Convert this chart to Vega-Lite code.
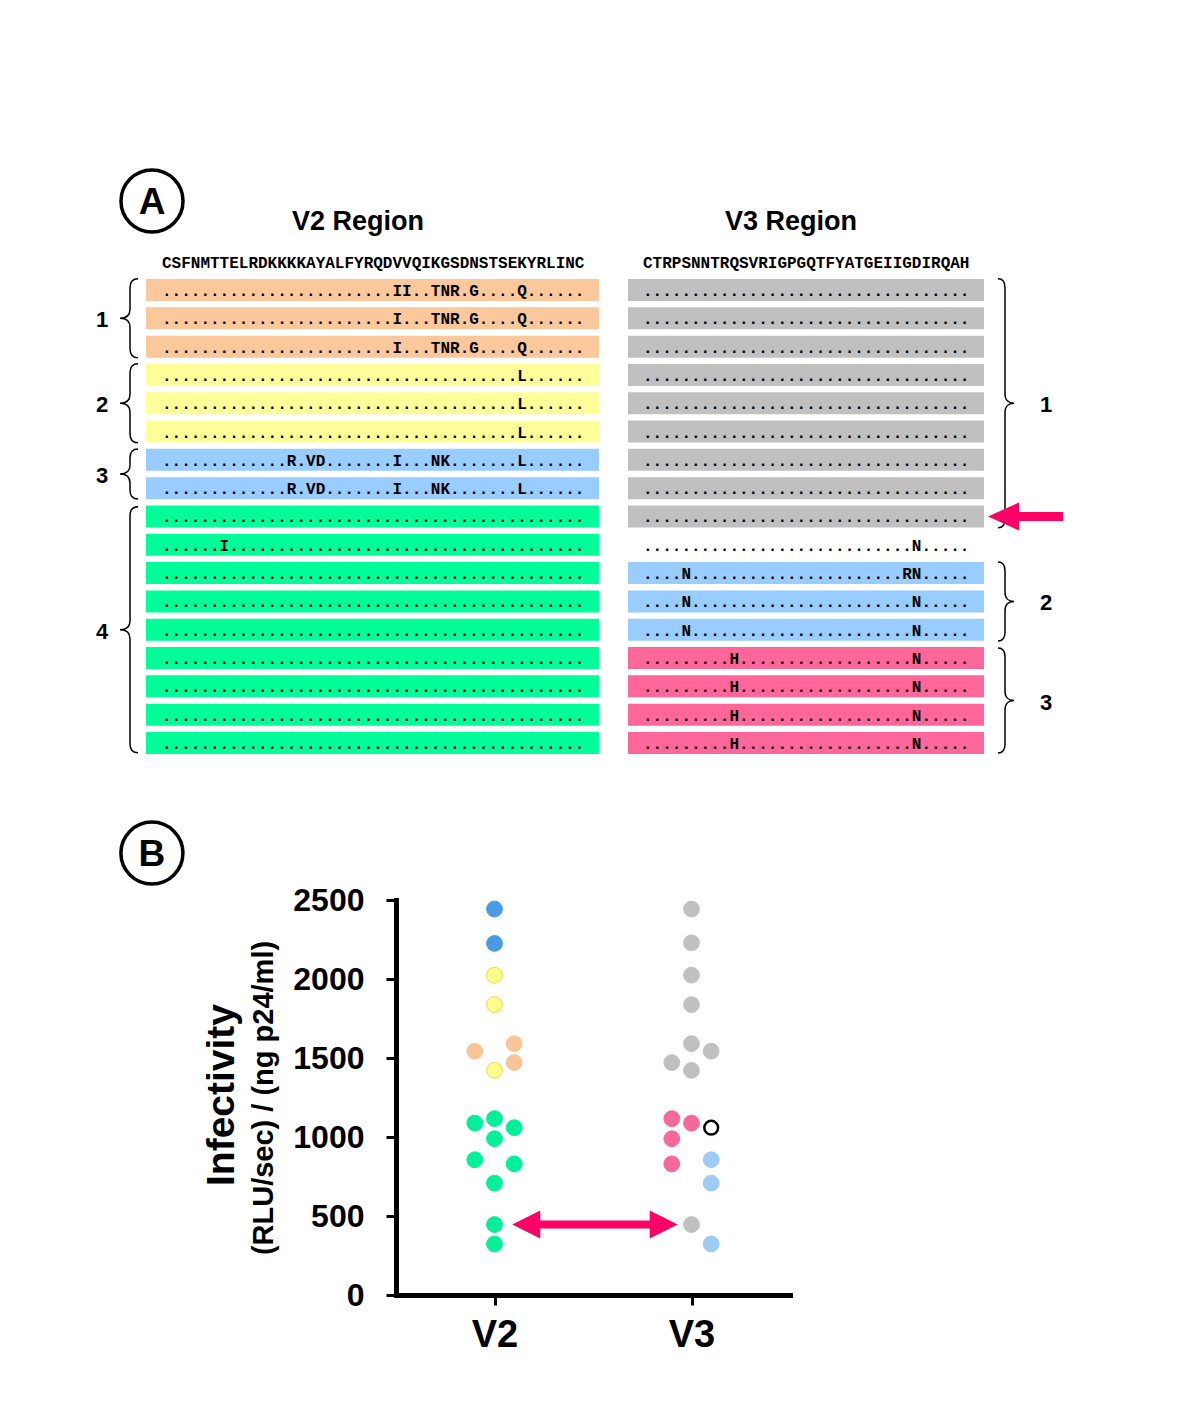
{
  "$schema": "https://vega.github.io/schema/vega-lite/v6.json",
  "width": 394,
  "height": 395,
  "autosize": {"type": "none"},
  "padding": {"left": 396, "top": 900, "right": 410, "bottom": 125},
  "background": "white",
  "config": {
    "view": {"stroke": null},
    "axis": {"grid": false, "domainColor": "black", "tickColor": "black", "labelColor": "black", "titleColor": "black", "labelFont": "Liberation Sans", "titleFont": "Liberation Sans", "labelFontWeight": "bold", "titleFontWeight": "bold"}
  },
  "datasets": {
    "pts": [
      {"r": "V2", "x": 1.0, "v": 2443, "c": "blue"},
      {"r": "V2", "x": 1.0, "v": 2225, "c": "blue"},
      {"r": "V2", "x": 1.0, "v": 2024, "c": "yellow"},
      {"r": "V2", "x": 1.0, "v": 1838, "c": "yellow"},
      {"r": "V2", "x": 1.0, "v": 1422, "c": "yellow"},
      {"r": "V2", "x": 0.9, "v": 1543, "c": "orange"},
      {"r": "V2", "x": 1.1, "v": 1591, "c": "orange"},
      {"r": "V2", "x": 1.1, "v": 1471, "c": "orange"},
      {"r": "V2", "x": 0.9, "v": 1088, "c": "green"},
      {"r": "V2", "x": 1.0, "v": 1116, "c": "green"},
      {"r": "V2", "x": 1.1, "v": 1059, "c": "green"},
      {"r": "V2", "x": 1.0, "v": 989, "c": "green"},
      {"r": "V2", "x": 0.9, "v": 856, "c": "green"},
      {"r": "V2", "x": 1.1, "v": 830, "c": "green"},
      {"r": "V2", "x": 1.0, "v": 708, "c": "green"},
      {"r": "V2", "x": 1.0, "v": 446, "c": "green"},
      {"r": "V2", "x": 1.0, "v": 323, "c": "green"},
      {"r": "V3", "x": 2.0, "v": 2443, "c": "gray"},
      {"r": "V3", "x": 2.0, "v": 2229, "c": "gray"},
      {"r": "V3", "x": 2.0, "v": 2024, "c": "gray"},
      {"r": "V3", "x": 2.0, "v": 1838, "c": "gray"},
      {"r": "V3", "x": 2.0, "v": 1591, "c": "gray"},
      {"r": "V3", "x": 2.1, "v": 1543, "c": "gray"},
      {"r": "V3", "x": 1.9, "v": 1471, "c": "gray"},
      {"r": "V3", "x": 2.0, "v": 1422, "c": "gray"},
      {"r": "V3", "x": 2.0, "v": 446, "c": "gray"},
      {"r": "V3", "x": 1.9, "v": 1116, "c": "pink"},
      {"r": "V3", "x": 2.0, "v": 1088, "c": "pink"},
      {"r": "V3", "x": 1.9, "v": 989, "c": "pink"},
      {"r": "V3", "x": 1.9, "v": 830, "c": "pink"},
      {"r": "V3", "x": 2.1, "v": 1059, "c": "open"},
      {"r": "V3", "x": 2.1, "v": 856, "c": "lblue"},
      {"r": "V3", "x": 2.1, "v": 708, "c": "lblue"},
      {"r": "V3", "x": 2.1, "v": 323, "c": "lblue"}
    ],
    "v2": [
      {"row": 1, "g": "o", "seq": "........................II..TNR.G....Q......"},
      {"row": 2, "g": "o", "seq": "........................I...TNR.G....Q......"},
      {"row": 3, "g": "o", "seq": "........................I...TNR.G....Q......"},
      {"row": 4, "g": "y", "seq": ".....................................L......"},
      {"row": 5, "g": "y", "seq": ".....................................L......"},
      {"row": 6, "g": "y", "seq": ".....................................L......"},
      {"row": 7, "g": "b", "seq": ".............R.VD.......I...NK.......L......"},
      {"row": 8, "g": "b", "seq": ".............R.VD.......I...NK.......L......"},
      {"row": 9, "g": "g", "seq": "............................................"},
      {"row": 10, "g": "g", "seq": "......I....................................."},
      {"row": 11, "g": "g", "seq": "............................................"},
      {"row": 12, "g": "g", "seq": "............................................"},
      {"row": 13, "g": "g", "seq": "............................................"},
      {"row": 14, "g": "g", "seq": "............................................"},
      {"row": 15, "g": "g", "seq": "............................................"},
      {"row": 16, "g": "g", "seq": "............................................"},
      {"row": 17, "g": "g", "seq": "............................................"}
    ],
    "v3": [
      {"row": 1, "g": "gr", "seq": ".................................."},
      {"row": 2, "g": "gr", "seq": ".................................."},
      {"row": 3, "g": "gr", "seq": ".................................."},
      {"row": 4, "g": "gr", "seq": ".................................."},
      {"row": 5, "g": "gr", "seq": ".................................."},
      {"row": 6, "g": "gr", "seq": ".................................."},
      {"row": 7, "g": "gr", "seq": ".................................."},
      {"row": 8, "g": "gr", "seq": ".................................."},
      {"row": 9, "g": "gr", "seq": ".................................."},
      {"row": 10, "g": "none", "seq": "............................N....."},
      {"row": 11, "g": "b", "seq": "....N......................RN....."},
      {"row": 12, "g": "b", "seq": "....N.......................N....."},
      {"row": 13, "g": "b", "seq": "....N.......................N....."},
      {"row": 14, "g": "p", "seq": ".........H..................N....."},
      {"row": 15, "g": "p", "seq": ".........H..................N....."},
      {"row": 16, "g": "p", "seq": ".........H..................N....."},
      {"row": 17, "g": "p", "seq": ".........H..................N....."}
    ],
    "v2ref": [{"row": 0, "seq": "CSFNMTTELRDKKKKAYALFYRQDVVQIKGSDNSTSEKYRLINC"}],
    "v3ref": [{"row": 0, "seq": "CTRPSNNTRQSVRIGPGQTFYATGEIIGDIRQAH"}],
    "lbr": [
      {"b": "L1", "mid": 2, "lab": "1"},
      {"b": "L2", "mid": 5, "lab": "2"},
      {"b": "L3", "mid": 7.5, "lab": "3"},
      {"b": "L4", "mid": 13, "lab": "4"}
    ],
    "rbr": [
      {"b": "R1", "mid": 5, "lab": "1"},
      {"b": "R2", "mid": 12, "lab": "2"},
      {"b": "R3", "mid": 15.5, "lab": "3"}
    ]
  },
  "layer": [
    {
      "layer": [
        {
          "data": {"name": "pts"},
          "transform": [{"filter": "datum.c != 'open'"}],
          "mark": {"type": "point", "shape": "circle", "filled": true, "size": 250, "opacity": 1, "strokeWidth": 1},
          "encoding": {
            "x": {"field": "x", "type": "quantitative", "scale": {"domain": [0.5, 2.5], "nice": false, "zero": false},
              "axis": {"values": [1, 2], "labelExpr": "datum.value == 1 ? 'V2' : 'V3'", "labelFontSize": 38, "labelPadding": 11, "labelDx": -7, "tickSize": 10, "tickWidth": 3, "domainWidth": 5, "domainCap": "square", "title": null, "labelFlush": false, "labelOverlap": false}},
            "y": {"field": "v", "type": "quantitative", "scale": {"domain": [0, 2500], "nice": false, "zero": false},
              "axis": {"values": [0, 500, 1000, 1500, 2000, 2500], "format": "d", "labelFontSize": 32, "labelPadding": 22, "tickSize": 10, "tickWidth": 3, "domainWidth": 5, "domainCap": "square", "title": "(RLU/sec) / (ng p24/ml)", "titleFontSize": 29, "titlePadding": 14, "labelFlush": false, "labelOverlap": false}},
            "fill": {"field": "c", "type": "nominal", "scale": {"domain": ["blue", "yellow", "orange", "green", "gray", "pink", "lblue"], "range": ["#4a9be6", "#ffff8c", "#f9c596", "#00f09a", "#c0c0c0", "#f7689a", "#9dcbf6"]}, "legend": null},
            "stroke": {"field": "c", "type": "nominal", "scale": {"domain": ["blue", "yellow", "orange", "green", "gray", "pink", "lblue"], "range": ["#4a9be6", "#e3d94a", "#f9c596", "#00f09a", "#c0c0c0", "#f7689a", "#9dcbf6"]}, "legend": null}
          }
        },
        {
          "data": {"name": "pts"},
          "transform": [{"filter": "datum.c == 'open'"}],
          "mark": {"type": "point", "shape": "circle", "filled": true, "fill": "white", "stroke": "black", "strokeWidth": 2.5, "size": 190, "opacity": 1},
          "encoding": {
            "x": {"field": "x", "type": "quantitative", "scale": {"domain": [0.5, 2.5], "nice": false, "zero": false}},
            "y": {"field": "v", "type": "quantitative", "scale": {"domain": [0, 2500], "nice": false, "zero": false}}
          }
        },
        {
          "data": {"values": [{"v": 446, "a": 1.14, "b": 1.88}]},
          "mark": {"type": "rule", "color": "#ff0066", "strokeWidth": 8},
          "encoding": {
            "x": {"field": "a", "type": "quantitative", "scale": {"domain": [0.5, 2.5], "nice": false, "zero": false}},
            "x2": {"field": "b"},
            "y": {"field": "v", "type": "quantitative", "scale": {"domain": [0, 2500], "nice": false, "zero": false}}
          }
        },
        {
          "data": {"values": [{"v": 446, "x": 1.09, "d": "L"}, {"v": 446, "x": 1.93, "d": "R"}]},
          "mark": {"type": "point", "size": 4, "filled": true, "opacity": 1, "color": "#ff0066", "strokeWidth": 0},
          "encoding": {
            "x": {"field": "x", "type": "quantitative", "scale": {"domain": [0.5, 2.5], "nice": false, "zero": false}},
            "y": {"field": "v", "type": "quantitative", "scale": {"domain": [0, 2500], "nice": false, "zero": false}},
            "shape": {"field": "d", "type": "nominal", "scale": {"domain": ["L", "R"], "range": ["M0,0L28,-14L28,14Z", "M0,0L-28,-14L-28,14Z"]}, "legend": null}
          }
        },
        {
          "data": {"values": [{"t": "Infectivity"}]},
          "mark": {"type": "text", "angle": 270, "font": "Liberation Sans", "fontWeight": "bold", "fontSize": 39, "align": "center", "baseline": "middle", "color": "black"},
          "encoding": {
            "x": {"datum": -0.383, "type": "quantitative", "scale": {"domain": [0.5, 2.5], "nice": false, "zero": false}},
            "y": {"datum": 1266, "type": "quantitative", "scale": {"domain": [0, 2500], "nice": false, "zero": false}},
            "text": {"field": "t"}
          }
        },
        {
          "data": {"values": [{"t": "B"}]},
          "mark": {"type": "point", "shape": "circle", "size": 3848, "filled": false, "color": "black", "strokeWidth": 3.5, "opacity": 1},
          "encoding": {
            "x": {"datum": -0.739, "type": "quantitative", "scale": {"domain": [0.5, 2.5], "nice": false, "zero": false}},
            "y": {"datum": 2797, "type": "quantitative", "scale": {"domain": [0, 2500], "nice": false, "zero": false}}
          }
        },
        {
          "data": {"values": [{"t": "B"}]},
          "mark": {"type": "text", "font": "Liberation Sans", "fontWeight": "bold", "fontSize": 37, "align": "center", "baseline": "middle", "dy": 2, "color": "black"},
          "encoding": {
            "x": {"datum": -0.739, "type": "quantitative", "scale": {"domain": [0.5, 2.5], "nice": false, "zero": false}},
            "y": {"datum": 2797, "type": "quantitative", "scale": {"domain": [0, 2500], "nice": false, "zero": false}},
            "text": {"field": "t"}
          }
        }
      ]
    },
    {
      "layer": [
        {
          "data": {"name": "v2"},
          "mark": {"type": "rule", "strokeWidth": 22, "strokeCap": "butt", "opacity": 1},
          "encoding": {
            "x": {"datum": -1.167, "type": "quantitative", "scale": {"domain": [24.875, 65.917], "nice": false, "zero": false}, "axis": null},
            "x2": {"datum": 46.02},
            "y": {"field": "row", "type": "quantitative", "scale": {"domain": [22.547, 36.5], "reverse": true, "nice": false, "zero": false}, "axis": null},
            "color": {"field": "g", "type": "nominal", "scale": {"domain": ["o", "y", "b", "g", "gr", "p"], "range": ["#fbc89b", "#ffff99", "#99ccff", "#00ff99", "#c0c0c0", "#ff6699"]}, "legend": null}
          }
        },
        {
          "data": {"name": "v2"},
          "mark": {"type": "text", "font": "Liberation Mono", "fontWeight": "bold", "fontSize": 16, "align": "left", "baseline": "middle", "dy": 1, "color": "black"},
          "encoding": {
            "x": {"datum": 0.5, "type": "quantitative", "scale": {"domain": [24.875, 65.917], "nice": false, "zero": false}, "axis": null},
            "y": {"field": "row", "type": "quantitative", "scale": {"domain": [22.547, 36.5], "reverse": true, "nice": false, "zero": false}, "axis": null},
            "text": {"field": "seq"}
          }
        },
        {
          "data": {"name": "v2ref"},
          "mark": {"type": "text", "font": "Liberation Mono", "fontWeight": "bold", "fontSize": 16, "align": "left", "baseline": "middle", "dy": 1, "color": "black"},
          "encoding": {
            "x": {"datum": 0.5, "type": "quantitative", "scale": {"domain": [24.875, 65.917], "nice": false, "zero": false}, "axis": null},
            "y": {"field": "row", "type": "quantitative", "scale": {"domain": [22.547, 36.5], "reverse": true, "nice": false, "zero": false}, "axis": null},
            "text": {"field": "seq"}
          }
        },
        {
          "data": {"name": "lbr"},
          "mark": {"type": "point", "size": 4, "filled": false, "color": "black", "strokeWidth": 1.5, "opacity": 1},
          "encoding": {
            "x": {"datum": -2.833, "type": "quantitative", "scale": {"domain": [24.875, 65.917], "nice": false, "zero": false}, "axis": null},
            "y": {"field": "mid", "type": "quantitative", "scale": {"domain": [22.547, 36.5], "reverse": true, "nice": false, "zero": false}, "axis": null},
            "shape": {"field": "b", "type": "nominal", "scale": {"domain": ["L1", "L2", "L3", "L4"], "range": [
              "M8,-39.5C3,-39.5 0,-36.5 0,-30.5L0,-9C0,-3 -4,0 -10,0C-4,0 0,3 0,9L0,30.5C0,36.5 3,39.5 8,39.5",
              "M8,-39.5C3,-39.5 0,-36.5 0,-30.5L0,-9C0,-3 -4,0 -10,0C-4,0 0,3 0,9L0,30.5C0,36.5 3,39.5 8,39.5",
              "M8,-25C3,-25 0,-22 0,-16L0,-9C0,-3 -4,0 -10,0C-4,0 0,3 0,9L0,16C0,22 3,25 8,25",
              "M8,-123C3,-123 0,-120 0,-114L0,-9C0,-3 -4,0 -10,0C-4,0 0,3 0,9L0,114C0,120 3,123 8,123"
            ]}, "legend": null}
          }
        },
        {
          "data": {"name": "lbr"},
          "mark": {"type": "text", "font": "Liberation Sans", "fontWeight": "bold", "fontSize": 22, "align": "center", "baseline": "middle", "dy": 2, "color": "black"},
          "encoding": {
            "x": {"datum": -5.75, "type": "quantitative", "scale": {"domain": [24.875, 65.917], "nice": false, "zero": false}, "axis": null},
            "y": {"field": "mid", "type": "quantitative", "scale": {"domain": [22.547, 36.5], "reverse": true, "nice": false, "zero": false}, "axis": null},
            "text": {"field": "lab"}
          }
        },
        {
          "data": {"values": [{"t": "V2 Region"}]},
          "mark": {"type": "text", "font": "Liberation Sans", "fontWeight": "bold", "fontSize": 27, "align": "center", "baseline": "middle", "color": "black"},
          "encoding": {
            "x": {"datum": 20.92, "type": "quantitative", "scale": {"domain": [24.875, 65.917], "nice": false, "zero": false}, "axis": null},
            "y": {"datum": -1.402, "type": "quantitative", "scale": {"domain": [22.547, 36.5], "reverse": true, "nice": false, "zero": false}, "axis": null},
            "text": {"field": "t"}
          }
        },
        {
          "data": {"values": [{"t": "A"}]},
          "mark": {"type": "point", "shape": "circle", "size": 3848, "filled": false, "color": "black", "strokeWidth": 3.5, "opacity": 1},
          "encoding": {
            "x": {"datum": -0.542, "type": "quantitative", "scale": {"domain": [24.875, 65.917], "nice": false, "zero": false}, "axis": null},
            "y": {"datum": -2.144, "type": "quantitative", "scale": {"domain": [22.547, 36.5], "reverse": true, "nice": false, "zero": false}, "axis": null}
          }
        },
        {
          "data": {"values": [{"t": "A"}]},
          "mark": {"type": "text", "font": "Liberation Sans", "fontWeight": "bold", "fontSize": 37, "align": "center", "baseline": "middle", "dy": 2, "color": "black"},
          "encoding": {
            "x": {"datum": -0.542, "type": "quantitative", "scale": {"domain": [24.875, 65.917], "nice": false, "zero": false}, "axis": null},
            "y": {"datum": -2.144, "type": "quantitative", "scale": {"domain": [22.547, 36.5], "reverse": true, "nice": false, "zero": false}, "axis": null},
            "text": {"field": "t"}
          }
        }
      ]
    },
    {
      "layer": [
        {
          "data": {"name": "v3"},
          "transform": [{"filter": "datum.g != 'none'"}],
          "mark": {"type": "rule", "strokeWidth": 22, "strokeCap": "butt", "opacity": 1},
          "encoding": {
            "x": {"datum": -1.0625, "type": "quantitative", "scale": {"domain": [-25.229, 15.813], "nice": false, "zero": false}, "axis": null},
            "x2": {"datum": 36.02},
            "y": {"field": "row", "type": "quantitative", "scale": {"domain": [22.547, 36.5], "reverse": true, "nice": false, "zero": false}, "axis": null},
            "color": {"field": "g", "type": "nominal", "scale": {"domain": ["o", "y", "b", "g", "gr", "p"], "range": ["#fbc89b", "#ffff99", "#99ccff", "#00ff99", "#c0c0c0", "#ff6699"]}, "legend": null}
          }
        },
        {
          "data": {"name": "v3"},
          "mark": {"type": "text", "font": "Liberation Mono", "fontWeight": "bold", "fontSize": 16, "align": "left", "baseline": "middle", "dy": 1, "color": "black"},
          "encoding": {
            "x": {"datum": 0.5, "type": "quantitative", "scale": {"domain": [-25.229, 15.813], "nice": false, "zero": false}, "axis": null},
            "y": {"field": "row", "type": "quantitative", "scale": {"domain": [22.547, 36.5], "reverse": true, "nice": false, "zero": false}, "axis": null},
            "text": {"field": "seq"}
          }
        },
        {
          "data": {"name": "v3ref"},
          "mark": {"type": "text", "font": "Liberation Mono", "fontWeight": "bold", "fontSize": 16, "align": "left", "baseline": "middle", "dy": 1, "color": "black"},
          "encoding": {
            "x": {"datum": 0.5, "type": "quantitative", "scale": {"domain": [-25.229, 15.813], "nice": false, "zero": false}, "axis": null},
            "y": {"field": "row", "type": "quantitative", "scale": {"domain": [22.547, 36.5], "reverse": true, "nice": false, "zero": false}, "axis": null},
            "text": {"field": "seq"}
          }
        },
        {
          "data": {"name": "rbr"},
          "mark": {"type": "point", "size": 4, "filled": false, "color": "black", "strokeWidth": 1.5, "opacity": 1},
          "encoding": {
            "x": {"datum": 38.21, "type": "quantitative", "scale": {"domain": [-25.229, 15.813], "nice": false, "zero": false}, "axis": null},
            "y": {"field": "mid", "type": "quantitative", "scale": {"domain": [22.547, 36.5], "reverse": true, "nice": false, "zero": false}, "axis": null},
            "shape": {"field": "b", "type": "nominal", "scale": {"domain": ["R1", "R2", "R3"], "range": [
              "M-7,-124.5C-2,-124.5 0,-121.5 0,-115.5L0,-9C0,-3 4,0 9,0C4,0 0,3 0,9L0,115.5C0,121.5 -2,124.5 -7,124.5",
              "M-7,-39.5C-2,-39.5 0,-36.5 0,-30.5L0,-9C0,-3 4,0 9,0C4,0 0,3 0,9L0,30.5C0,36.5 -2,39.5 -7,39.5",
              "M-7,-52.5C-2,-52.5 0,-49.5 0,-43.5L0,-9C0,-3 4,0 9,0C4,0 0,3 0,9L0,43.5C0,49.5 -2,52.5 -7,52.5"
            ]}, "legend": null}
          }
        },
        {
          "data": {"name": "rbr"},
          "mark": {"type": "text", "font": "Liberation Sans", "fontWeight": "bold", "fontSize": 22, "align": "center", "baseline": "middle", "dy": 2, "color": "black"},
          "encoding": {
            "x": {"datum": 42.48, "type": "quantitative", "scale": {"domain": [-25.229, 15.813], "nice": false, "zero": false}, "axis": null},
            "y": {"field": "mid", "type": "quantitative", "scale": {"domain": [22.547, 36.5], "reverse": true, "nice": false, "zero": false}, "axis": null},
            "text": {"field": "lab"}
          }
        },
        {
          "data": {"values": [{"row": 9, "a": 37.6, "b": 44.25}]},
          "mark": {"type": "rule", "color": "#ff0066", "strokeWidth": 9},
          "encoding": {
            "x": {"field": "a", "type": "quantitative", "scale": {"domain": [-25.229, 15.813], "nice": false, "zero": false}, "axis": null},
            "x2": {"field": "b"},
            "y": {"field": "row", "type": "quantitative", "scale": {"domain": [22.547, 36.5], "reverse": true, "nice": false, "zero": false}, "axis": null}
          }
        },
        {
          "data": {"values": [{"row": 9, "x": 36.44}]},
          "mark": {"type": "point", "size": 4, "filled": true, "opacity": 1, "color": "#ff0066", "strokeWidth": 0, "shape": "M0,0L31,-14L31,14Z"},
          "encoding": {
            "x": {"field": "x", "type": "quantitative", "scale": {"domain": [-25.229, 15.813], "nice": false, "zero": false}, "axis": null},
            "y": {"field": "row", "type": "quantitative", "scale": {"domain": [22.547, 36.5], "reverse": true, "nice": false, "zero": false}, "axis": null}
          }
        },
        {
          "data": {"values": [{"t": "V3 Region"}]},
          "mark": {"type": "text", "font": "Liberation Sans", "fontWeight": "bold", "fontSize": 27, "align": "center", "baseline": "middle", "color": "black"},
          "encoding": {
            "x": {"datum": 15.92, "type": "quantitative", "scale": {"domain": [-25.229, 15.813], "nice": false, "zero": false}, "axis": null},
            "y": {"datum": -1.402, "type": "quantitative", "scale": {"domain": [22.547, 36.5], "reverse": true, "nice": false, "zero": false}, "axis": null},
            "text": {"field": "t"}
          }
        }
      ]
    }
  ],
  "resolve": {"scale": {"x": "independent", "y": "independent", "color": "independent", "fill": "independent", "stroke": "independent", "shape": "independent"}}
}
